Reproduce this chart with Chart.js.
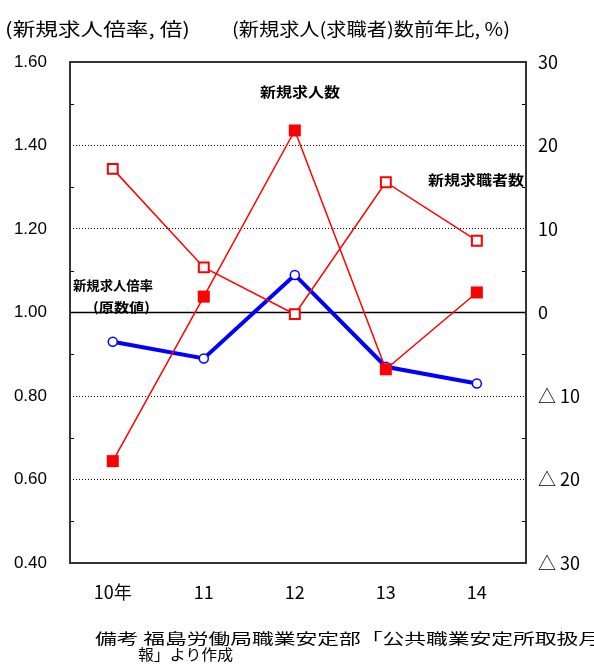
<!DOCTYPE html>
<html>
<head>
<meta charset="utf-8">
<script src="https://cdn.jsdelivr.net/npm/chart.js@4"></script>
<style>
  body { margin: 0; background: #fff; }
  #c { display: block; }
</style>
</head>
<body>
<canvas id="c" width="594" height="667" style="width:594px;height:667px"></canvas>
<script>
// 新規求人倍率 と 新規求人数/新規求職者数の前年比
const years = ['10年', '11', '12', '13', '14'];
const ratio = [0.93, 0.89, 1.09, 0.87, 0.83];       // 新規求人倍率（原数値）, 倍
const newOffers = [-17.8, 1.9, 21.8, -6.8, 2.4];     // 新規求人数 前年比, %
const newSeekers = [17.2, 5.4, -0.2, 15.6, 8.6];     // 新規求職者数 前年比, %

const JP = '"Noto Sans CJK JP", "Noto Sans", sans-serif';
const NUM = '"Liberation Sans", Arial, sans-serif';

const toPts = arr => arr.map((v, i) => ({ x: i, y: v }));

// draw text squeezed/stretched into a given x range
function fitText(ctx, text, x1, x2, yc, font) {
  ctx.save();
  ctx.font = font;
  ctx.textBaseline = 'middle';
  ctx.textAlign = 'left';
  const w = ctx.measureText(text).width;
  const s = (x2 - x1) / w;
  ctx.translate(x1, yc);
  ctx.scale(s, 1);
  ctx.fillText(text, 0, 0);
  ctx.restore();
}

const decor = {
  id: 'decor',
  beforeDatasetsDraw(chart) {
    const { ctx, chartArea: a, scales } = chart;
    ctx.save();
    // zero line
    const y0 = scales.y.getPixelForValue(1.0);
    ctx.strokeStyle = '#000';
    ctx.lineWidth = 1.5;
    ctx.beginPath();
    ctx.moveTo(a.left, y0);
    ctx.lineTo(a.right, y0);
    ctx.stroke();
    // minor inward ticks
    ctx.lineWidth = 1;
    for (let k = 5; k <= 15; k += 2) {
      const y = Math.round(scales.y.getPixelForValue(k / 10)) + 0.5;
      ctx.beginPath();
      ctx.moveTo(a.left, y); ctx.lineTo(a.left + 4, y);
      ctx.moveTo(a.right, y); ctx.lineTo(a.right - 4, y);
      ctx.stroke();
    }
    ctx.restore();
  },
  afterDraw(chart) {
    const { ctx, chartArea: a } = chart;
    ctx.save();
    ctx.strokeStyle = '#333';
    ctx.lineWidth = 2;
    ctx.strokeRect(a.left, a.top, a.right - a.left, a.bottom - a.top);

    ctx.fillStyle = '#000';
    fitText(ctx, '(新規求人倍率, 倍)', 5, 190, 29, '18px ' + JP);
    fitText(ctx, '(新規求人(求職者)数前年比, %)', 232, 510, 29, '18px ' + JP);

    fitText(ctx, '新規求人数', 260, 340, 92, 'bold 14px ' + JP);
    fitText(ctx, '新規求職者数', 428, 524, 180, 'bold 14px ' + JP);
    fitText(ctx, '新規求人倍率', 73, 153, 285, 'bold 13px ' + JP);
    fitText(ctx, '(原数値)', 93, 150, 307, 'bold 13px ' + JP);

    fitText(ctx, '備考 福島労働局職業安定部「公共職業安定所取扱月', 95, 600, 638, '15px ' + JP);
    fitText(ctx, '報」より作成', 138, 233, 654, '15px ' + JP);
    ctx.restore();
  }
};

new Chart(document.getElementById('c'), {
  type: 'line',
  data: {
    datasets: [
      {
        label: '新規求人数',
        data: toPts(newOffers),
        yAxisID: 'y2',
        borderColor: '#ff0000',
        borderWidth: 1.5,
        pointStyle: 'rect',
        pointRadius: 8.5,
        pointBackgroundColor: '#ff0000',
        pointBorderColor: '#ff0000',
        pointBorderWidth: 0,
        tension: 0,
        order: 1
      },
      {
        label: '新規求職者数',
        data: toPts(newSeekers),
        yAxisID: 'y2',
        borderColor: '#ff0000',
        borderWidth: 1.5,
        pointStyle: 'rect',
        pointRadius: 7,
        pointBackgroundColor: '#fff',
        pointBorderColor: '#ff0000',
        pointBorderWidth: 2,
        tension: 0,
        order: 2
      },
      {
        label: '新規求人倍率',
        data: toPts(ratio),
        yAxisID: 'y',
        borderColor: '#0000ff',
        borderWidth: 4,
        pointStyle: 'circle',
        pointRadius: 4.5,
        pointBackgroundColor: '#fff',
        pointBorderColor: '#0000ff',
        pointBorderWidth: 1.5,
        tension: 0,
        order: 3
      }
    ]
  },
  options: {
    responsive: false,
    animation: false,
    layout: { padding: { top: 62, left: 0, right: 0, bottom: 0 } },
    plugins: { legend: { display: false }, tooltip: { enabled: false } },
    scales: {
      x: {
        type: 'linear',
        min: -0.47,
        max: 4.54,
        afterFit: s => { s.height = 104; },
        afterBuildTicks: s => { s.ticks = years.map((_, i) => ({ value: i })); },
        grid: { display: false },
        border: { display: false },
        ticks: {
          padding: 10,
          color: '#000',
          font: { family: JP, size: 18 },
          callback: (v, i) => years[i]
        }
      },
      y: {
        position: 'left',
        min: 0.4,
        max: 1.6,
        afterFit: s => { s.width = 70; },
        ticks: {
          stepSize: 0.2,
          padding: 23,
          color: '#000',
          font: { family: NUM, size: 17 },
          callback: v => v.toFixed(2)
        },
        grid: {
          drawTicks: false,
          lineWidth: 1,
          color: c => {
            const v = Math.round(c.tick.value * 10);
            return (v === 4 || v === 16 || v === 10) ? 'rgba(0,0,0,0)' : '#000';
          }
        },
        border: { display: false, dash: [1, 2] }
      },
      y2: {
        position: 'right',
        min: -30,
        max: 30,
        afterFit: s => { s.width = 68; },
        ticks: {
          stepSize: 10,
          padding: 12,
          color: '#000',
          font: { family: JP, size: 18 },
          callback: v => v < 0 ? '△ ' + Math.abs(v) : String(v)
        },
        grid: { display: false, drawTicks: false },
        border: { display: false }
      }
    }
  },
  plugins: [decor]
});
</script>
</body>
</html>
